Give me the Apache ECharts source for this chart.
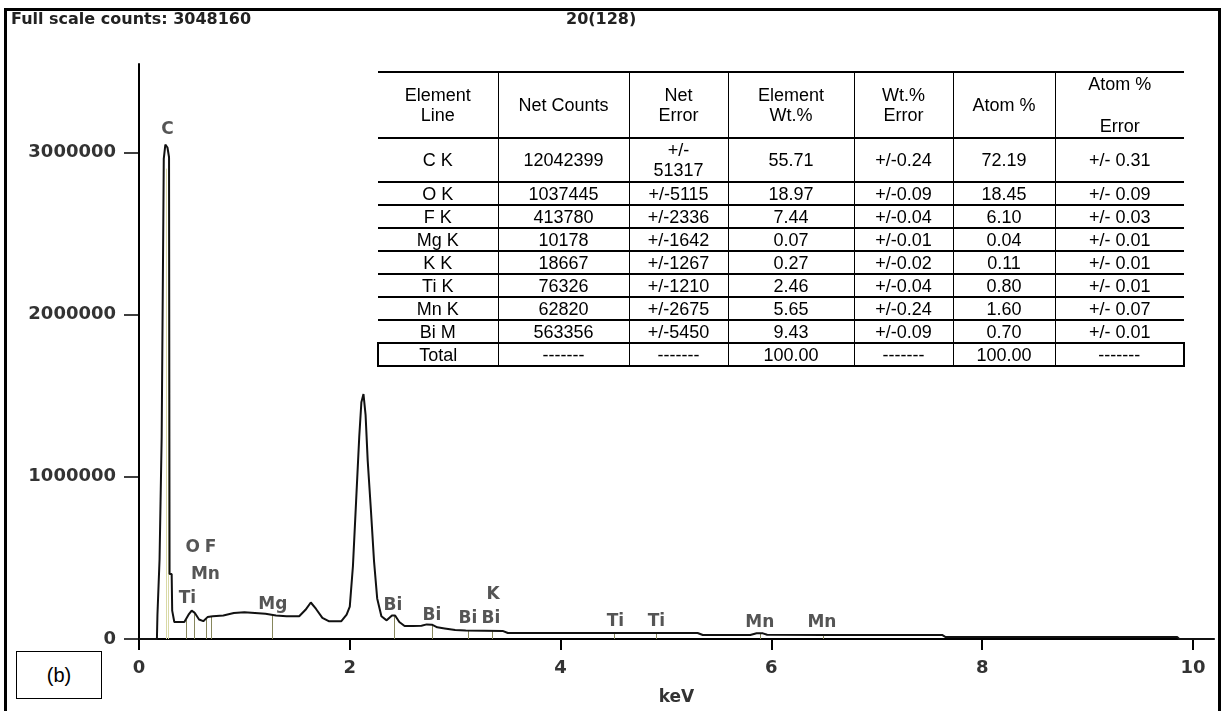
<!DOCTYPE html>
<html>
<head>
<meta charset="utf-8">
<script src="https://cdn.jsdelivr.net/npm/echarts@6/dist/echarts.min.js"></script>
<style>
html,body{margin:0;padding:0;background:#fff;}
#wrap{position:relative;width:1222px;height:711px;overflow:hidden;background:#fff;}
#chart{position:absolute;left:0;top:0;width:1222px;height:711px;}
#frame{position:absolute;left:4px;top:8px;width:1211px;height:720px;border-left:3px solid #000;border-top:3px solid #000;border-right:3px solid #000;pointer-events:none;}
.hdr{position:absolute;font-family:'DejaVu Sans';font-weight:bold;font-size:16px;color:#222;white-space:nowrap;}
#tbl{position:absolute;left:377px;top:71px;width:806px;border-collapse:collapse;table-layout:fixed;font-family:'Liberation Sans',Arial,sans-serif;font-size:18px;color:#000;}
#tbl td{border-top:2px solid #000;border-bottom:2px solid #000;border-left:1.5px solid #000;border-right:1.5px solid #000;text-align:center;vertical-align:middle;padding:0;line-height:20px;}
#tbl td:first-child{border-left:none;}
#tbl td:last-child{border-right:none;}
#tbl tr.total td:first-child{border-left:2px solid #000;}
#tbl tr.total td:last-child{border-right:2px solid #000;}
#blabel{position:absolute;left:16px;top:651px;width:84px;height:46px;border:1.5px solid #000;font-family:'Liberation Sans',Arial,sans-serif;font-size:20px;line-height:46px;text-align:center;color:#000;background:#fff;}
</style>
</head>
<body>
<div id="wrap">
  <div id="chart"></div>
  <div id="frame"></div>
  <div class="hdr" id="hdr1" style="left:11px;top:9px;"></div>
  <div class="hdr" id="hdr2" style="left:566px;top:9px;"></div>
  <table id="tbl"></table>
  <div id="blabel">(b)</div>
</div>
<script>
// ---------- data ----------
const headerLeft = 'Full scale counts: 3048160';
const headerMid = '20(128)';

// spectrum (keV, counts)
const energy = [0, 0.17, 0.175, 0.19, 0.195, 0.21, 0.215, 0.23, 0.235, 0.25, 0.27, 0.285, 0.29, 0.31, 0.315, 0.33, 0.335, 0.43, 0.47, 0.5, 0.53, 0.57, 0.61, 0.65, 0.7, 0.8, 0.9, 1.0, 1.1, 1.2, 1.3, 1.4, 1.52, 1.58, 1.63, 1.68, 1.74, 1.8, 1.92, 1.97, 2.0, 2.03, 2.06, 2.09, 2.11, 2.13, 2.15, 2.17, 2.2, 2.23, 2.26, 2.3, 2.35, 2.4, 2.43, 2.47, 2.52, 2.6, 2.68, 2.73, 2.78, 2.83, 2.9, 3.0, 3.1, 3.45, 3.5, 3.6, 4.0, 5.3, 5.35, 5.8, 5.86, 5.92, 5.96, 6.5, 7.0, 7.62, 7.65, 9.85, 9.87, 10.2];
const counts = [0, 0, 150000, 150000, 490000, 490000, 1240000, 1240000, 2960000, 3048160, 3030000, 2970000, 400000, 400000, 175000, 175000, 105000, 105000, 150000, 175000, 160000, 120000, 110000, 135000, 140000, 145000, 160000, 165000, 160000, 155000, 145000, 140000, 140000, 180000, 225000, 185000, 130000, 110000, 110000, 150000, 200000, 450000, 850000, 1250000, 1460000, 1510000, 1380000, 1100000, 800000, 480000, 250000, 140000, 115000, 145000, 145000, 105000, 80000, 80000, 82000, 90000, 88000, 72000, 65000, 55000, 52000, 50000, 37000, 37000, 37000, 37000, 25000, 25000, 35000, 35000, 26000, 25000, 25000, 25000, 13000, 13000, 0, 0];

// element marker lines (keV, top counts)
const markerEnergy = [0.255, 0.28, 0.446, 0.52, 0.636, 0.69, 1.26, 2.42, 2.78, 3.12, 3.35, 4.51, 4.91, 5.89, 6.49];
const markerHeight = [2900000, 2900000, 120000, 170000, 125000, 140000, 148000, 145000, 88000, 52000, 50000, 37000, 37000, 35000, 25000];
const markerPale = [true, true, false, false, false, false, false, false, false, false, false, false, false, false, false];

// element labels (text, keV, counts at label centre)
const labelText = ['C', 'O', 'F', 'Mn', 'Ti', 'Mg', 'Bi', 'Bi', 'Bi', 'Bi', 'K', 'Ti', 'Ti', 'Mn', 'Mn'];
const labelX = [0.27, 0.51, 0.68, 0.63, 0.46, 1.27, 2.41, 2.78, 3.12, 3.34, 3.36, 4.52, 4.91, 5.89, 6.48];
const labelY = [3140000, 564000, 564000, 399000, 251000, 215000, 208000, 147000, 123000, 123000, 276000, 110000, 110000, 104000, 104000];

// axes
const xTicks = [0, 2, 4, 6, 8, 10];
const yTicks = [0, 1000000, 2000000, 3000000];
const xMax = 10.2;
const yMax = 3545000;

// table
const colHeaders = ['Element<br>Line', 'Net Counts', 'Net<br>Error', 'Element<br>Wt.%', 'Wt.%<br>Error', 'Atom %', 'Atom %<br><br>Error'];
const elementLine = ['C K', 'O K', 'F K', 'Mg K', 'K K', 'Ti K', 'Mn K', 'Bi M', 'Total'];
const netCounts = ['12042399', '1037445', '413780', '10178', '18667', '76326', '62820', '563356', '-------'];
const netError = ['+/-<br>51317', '+/-5115', '+/-2336', '+/-1642', '+/-1267', '+/-1210', '+/-2675', '+/-5450', '-------'];
const elementWt = ['55.71', '18.97', '7.44', '0.07', '0.27', '2.46', '5.65', '9.43', '100.00'];
const wtError = ['+/-0.24', '+/-0.09', '+/-0.04', '+/-0.01', '+/-0.02', '+/-0.04', '+/-0.24', '+/-0.09', '-------'];
const atomPct = ['72.19', '18.45', '6.10', '0.04', '0.11', '0.80', '1.60', '0.70', '100.00'];
const atomError = ['+/- 0.31', '+/- 0.09', '+/- 0.03', '+/- 0.01', '+/- 0.01', '+/- 0.01', '+/- 0.07', '+/- 0.01', '-------'];

// ---------- build header/table ----------
document.getElementById('hdr1').textContent = headerLeft;
document.getElementById('hdr2').textContent = headerMid;

const colWidths = [120, 131, 99, 126, 99, 102, 129];
const tbl = document.getElementById('tbl');
let html = '<colgroup>' + colWidths.map(w => '<col style="width:' + w + 'px">').join('') + '</colgroup>';
html += '<tr style="height:66px">' + colHeaders.map((h, i) => '<td' + (i === 6 ? ' style="line-height:21px"' : '') + '>' + h + '</td>').join('') + '</tr>';
for (let r = 0; r < elementLine.length; r++) {
  const h = r === 0 ? 44 : 23;
  const cls = elementLine[r] === 'Total' ? ' class="total"' : '';
  const cells = [elementLine[r], netCounts[r], netError[r], elementWt[r], wtError[r], atomPct[r], atomError[r]];
  html += '<tr' + cls + ' style="height:' + h + 'px">' + cells.map(c => '<td>' + c + '</td>').join('') + '</tr>';
}
tbl.innerHTML = html;

// ---------- chart ----------
const chart = echarts.init(document.getElementById('chart'), null, { renderer: 'canvas' });
const spectrum = energy.map((e, i) => [e, counts[i]]);
const markerLines = markerEnergy.map((e, i) => [
  { coord: [e, 0], lineStyle: { color: markerPale[i] ? '#d9d9a6' : '#86865c', width: 1, type: 'solid' } },
  { coord: [e, markerHeight[i]] }
]);
const labels = labelText.map((t, i) => ({ name: t, value: [labelX[i], labelY[i]] }));
const axisFont = { fontFamily: 'DejaVu Sans', fontWeight: 'bold', fontSize: 18, color: '#333' };

chart.setOption({
  animation: false,
  backgroundColor: '#fff',
  grid: { left: 139, right: 8, top: 64, bottom: 69 },
  xAxis: {
    type: 'value', min: 0, max: xMax, interval: 2,
    name: 'keV', nameLocation: 'middle', nameGap: 50,
    nameTextStyle: { fontFamily: 'DejaVu Sans', fontWeight: 'bold', fontSize: 17, color: '#333' },
    axisLine: { show: true, onZero: false, lineStyle: { color: '#000', width: 2 } },
    axisTick: { show: true, inside: false, length: 11, customValues: xTicks, lineStyle: { color: '#000', width: 2 } },
    axisLabel: Object.assign({ margin: 20, customValues: xTicks, formatter: v => String(v) }, axisFont),
    splitLine: { show: false }
  },
  yAxis: {
    type: 'value', min: 0, max: yMax, interval: 1000000,
    axisLine: { show: true, onZero: false, lineStyle: { color: '#000', width: 2 } },
    axisTick: { show: true, inside: false, length: 15, customValues: yTicks, lineStyle: { color: '#000', width: 1.5 } },
    axisLabel: Object.assign({ margin: 23, customValues: yTicks, formatter: v => String(v) }, axisFont),
    splitLine: { show: false }
  },
  series: [
    {
      type: 'line', data: spectrum, symbol: 'none', z: 3,
      lineStyle: { color: '#111', width: 2 },
      markLine: { silent: true, symbol: 'none', label: { show: false }, data: markerLines, z: 2 }
    },
    {
      type: 'scatter', data: labels, symbolSize: 0, z: 4, silent: true,
      label: {
        show: true, position: 'inside', formatter: p => p.name,
        fontFamily: 'DejaVu Sans', fontWeight: 'bold', fontSize: 17, color: '#2a2a2a'
      }
    }
  ]
});
</script>
</body>
</html>
